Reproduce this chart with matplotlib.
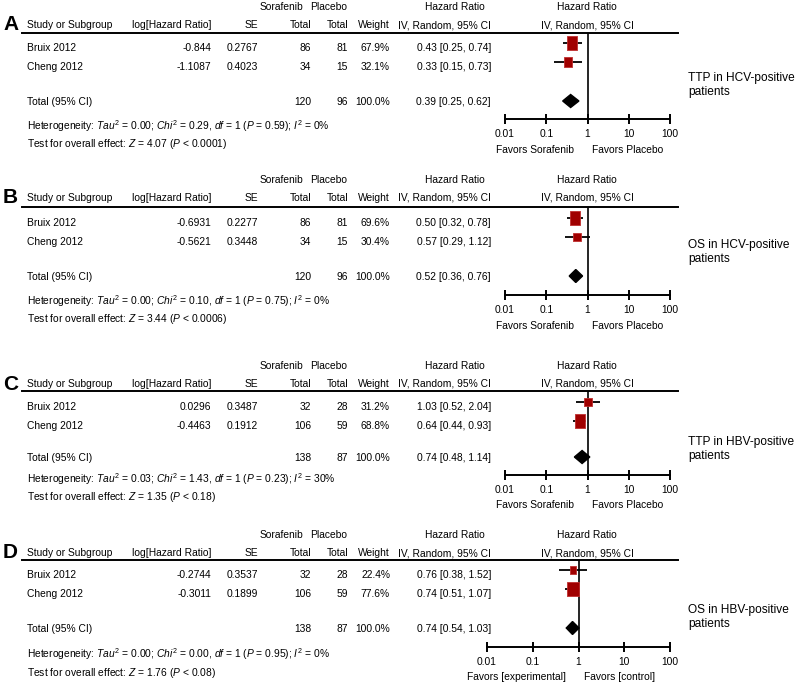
import numpy as np
import matplotlib
matplotlib.use('Agg')
import matplotlib.pyplot as plt

plt.rcParams['font.family'] = ['Liberation Sans', 'DejaVu Sans']
plt.rcParams['mathtext.fontset'] = 'custom'
plt.rcParams['mathtext.rm'] = 'Liberation Sans'
plt.rcParams['mathtext.it'] = 'Liberation Sans:italic'
plt.rcParams['mathtext.bf'] = 'Liberation Sans:bold'

# ---- data ----
panels = ['A', 'B', 'C', 'D']
studies = ['Bruix 2012', 'Cheng 2012']
log_hr = [[-0.844, -1.1087], [-0.6931, -0.5621],
          [0.0296, -0.4463], [-0.2744, -0.3011]]
se = [[0.2767, 0.4023], [0.2277, 0.3448], [0.3487, 0.1912], [0.3537, 0.1899]]
n_sorafenib = [[86, 34], [86, 34], [32, 106], [32, 106]]
n_placebo = [[81, 15], [81, 15], [28, 59], [28, 59]]
weight = [[67.9, 32.1], [69.6, 30.4], [31.2, 68.8], [22.4, 77.6]]
hr = [[0.43, 0.33], [0.50, 0.57], [1.03, 0.64], [0.76, 0.74]]
hr_lo = [[0.25, 0.15], [0.32, 0.29], [0.52, 0.44], [0.38, 0.51]]
hr_hi = [[0.74, 0.73], [0.78, 1.12], [2.04, 0.93], [1.52, 1.07]]
tot_sorafenib = [120, 120, 138, 138]
tot_placebo = [96, 96, 87, 87]
tot_hr = [0.39, 0.52, 0.74, 0.74]
tot_lo = [0.25, 0.36, 0.48, 0.54]
tot_hi = [0.62, 0.76, 1.14, 1.03]
tau2 = ['0.00', '0.00', '0.03', '0.00']
chi2 = ['0.29', '0.10', '1.43', '0.00']
p_het = ['0.59', '0.75', '0.23', '0.95']
i2 = [0, 0, 30, 0]
z_val = ['4.07', '3.44', '1.35', '1.76']
p_z = ['0.0001', '0.0006', '0.18', '0.08']
favors_left = ['Favors Sorafenib'] * 3 + ['Favors [experimental]']
favors_right = ['Favors Placebo'] * 3 + ['Favors [control]']
side_labels = ['TTP in HCV-positive\npatients', 'OS in HCV-positive\npatients',
               'TTP in HBV-positive\npatients', 'OS in HBV-positive\npatients']
xticks = [0.01, 0.1, 1, 10, 100]
xtick_labels = ['0.01', '0.1', '1', '10', '100']

# ---- layout (pixels) ----
W, H = 798, 684
# header row y, header rule y, row1, row2, total, heterogeneity, test,
# axis line, favors labels
rows_y = [
    [24, 33, 47, 66, 101, 124, 142, 119, 149],
    [197, 207, 222, 241, 276, 299, 317, 295, 325],
    [383, 391, 406, 425, 457, 477, 495, 475, 504],
    [552, 560, 574, 593, 628, 652, 671, 647, 676],
]
side_y = [83, 250, 447, 615]
forest_x = [(505, 670), (505, 670), (505, 670), (487, 670)]
FS = 7.4

fig = plt.figure(figsize=(W / 100, H / 100), dpi=100)


def txt(x, y, s, ha='left', size=FS, **kw):
    fig.text(x / W, 1 - y / H, s, ha=ha, va='center_baseline',
             fontsize=size, **kw)


# slightly taller-than-wide box marker like the RevMan squares
box = [(-0.4, -0.5), (0.4, -0.5), (0.4, 0.5), (-0.4, 0.5), (-0.4, -0.5)]

for p in range(4):
    (y_head, y_rule, y_r1, y_r2, y_tot, y_het, y_test,
     y_axis, y_fav) = rows_y[p]
    x0, x1 = forest_x[p]

    txt(3, y_head - 1, panels[p], size=15, fontweight='bold')
    # column group header
    txt(303, y_head - 18, 'Sorafenib', ha='right')
    txt(310, y_head - 18, 'Placebo')
    txt(455, y_head - 18, 'Hazard Ratio', ha='center')
    txt(587, y_head - 18, 'Hazard Ratio', ha='center')
    # column headers
    txt(27, y_head, 'Study or Subgroup')
    txt(211, y_head, 'log[Hazard Ratio]', ha='right')
    txt(258, y_head, 'SE', ha='right')
    txt(311, y_head, 'Total', ha='right')
    txt(348, y_head, 'Total', ha='right')
    txt(390, y_head, 'Weight', ha='right')
    txt(491, y_head, 'IV, Random, 95% CI', ha='right')
    txt(587, y_head, 'IV, Random, 95% CI', ha='center')
    fig.add_artist(plt.Line2D([22 / W, 678 / W],
                              [1 - y_rule / H, 1 - y_rule / H],
                              color='black', lw=1.4))

    for i, yy in enumerate([y_r1, y_r2]):
        txt(27, yy, studies[i])
        txt(211, yy, str(log_hr[p][i]), ha='right')
        txt(258, yy, '%.4f' % se[p][i], ha='right')
        txt(311, yy, str(n_sorafenib[p][i]), ha='right')
        txt(348, yy, str(n_placebo[p][i]), ha='right')
        txt(390, yy, '%.1f%%' % weight[p][i], ha='right')
        txt(491, yy, '%.2f [%.2f, %.2f]' % (hr[p][i], hr_lo[p][i],
                                           hr_hi[p][i]), ha='right')

    txt(27, y_tot, 'Total (95% CI)')
    txt(311, y_tot, str(tot_sorafenib[p]), ha='right')
    txt(348, y_tot, str(tot_placebo[p]), ha='right')
    txt(390, y_tot, '100.0%', ha='right')
    txt(491, y_tot, '%.2f [%.2f, %.2f]' % (tot_hr[p], tot_lo[p], tot_hi[p]),
        ha='right')
    txt(27, y_het, r'Heterogeneity: $Tau^2$ = %s; $Chi^2$ = %s, $df$ = 1 '
        r'($P$ = %s); $I^2$ = %d%%' % (tau2[p], chi2[p], p_het[p], i2[p]))
    txt(27, y_test, r'Test for overall effect: $Z$ = %s ($P$ < %s)'
        % (z_val[p], p_z[p]))

    txt(688, side_y[p], side_labels[p], size=8.6, linespacing=1.2)

    # forest plot
    ax = fig.add_axes([x0 / W, 1 - y_axis / H, (x1 - x0) / W,
                       (y_axis - y_rule) / H])
    ax.set_xscale('log')
    ax.set_xlim(0.01, 100)
    ax.set_ylim(y_axis, y_rule)
    ax.patch.set_alpha(0)
    for s in ['top', 'left', 'right']:
        ax.spines[s].set_visible(False)
    ax.spines['bottom'].set_linewidth(1.4)
    ax.set_yticks([])
    ax.set_xticks(xticks)
    ax.set_xticklabels(xtick_labels)
    ax.minorticks_off()
    ax.tick_params(axis='x', direction='inout', length=7, width=1.4,
                   labelsize=FS, pad=4)
    ax.axvline(1, color='black', lw=1.2)

    for i, yy in enumerate([y_r1 - 4, y_r2 - 4]):
        ax.plot([hr_lo[p][i], hr_hi[p][i]], [yy, yy], color='black', lw=1.3,
                solid_capstyle='butt', zorder=2, clip_on=False)
        ax.plot(hr[p][i], yy, marker=box, ms=1.15 * np.sqrt(weight[p][i]),
                color='#a00000', mec='#c03030', mew=0.6, zorder=3,
                clip_on=False)
    yd = y_tot
    ax.fill([tot_lo[p], tot_hr[p], tot_hi[p], tot_hr[p]],
            [yd, yd - 6.5, yd, yd + 6.5], color='black', zorder=3,
            clip_on=False)

    ax.annotate(favors_left[p], xy=(1, 0), xycoords=('data', 'axes fraction'),
                xytext=(-13, -(y_fav - y_axis)), textcoords='offset pixels',
                ha='right', va='center_baseline', fontsize=FS)
    ax.annotate(favors_right[p], xy=(1, 0), xycoords=('data', 'axes fraction'),
                xytext=(5, -(y_fav - y_axis)), textcoords='offset pixels',
                ha='left', va='center_baseline', fontsize=FS)

fig.savefig('out.png', dpi=100)
